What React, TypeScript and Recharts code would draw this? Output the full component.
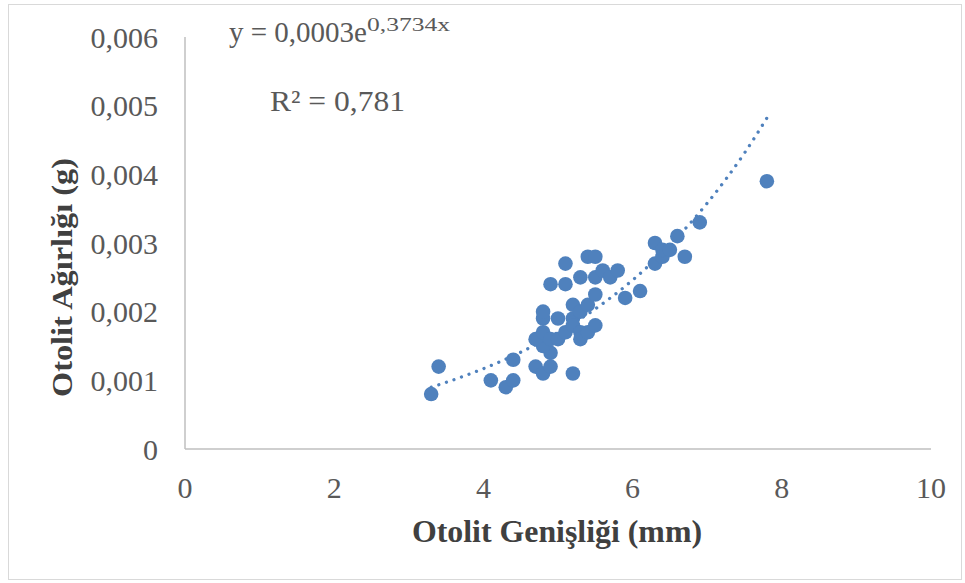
import { ScatterChart, Scatter, XAxis, YAxis } from 'recharts';

// otolith width (mm) vs otolith weight (g)
const widths = [
  3.3, 3.4, 4.1, 4.3, 4.4, 4.4,
  4.7, 4.8, 4.9, 5.2,
  4.9, 4.8, 4.7, 4.8, 4.9, 5.0, 5.1,
  4.8, 4.8, 5.0, 5.2, 5.2, 5.3, 5.3, 5.4, 5.5,
  5.2, 5.3, 5.4, 5.5,
  4.9, 5.1, 5.3, 5.5, 5.1, 5.4, 5.5,
  5.6, 5.7, 5.8, 5.9, 6.1,
  6.3, 6.3, 6.4, 6.4, 6.5, 6.6, 6.7, 6.9, 7.8,
];
const weights = [
  0.0008, 0.0012, 0.001, 0.0009, 0.001, 0.0013,
  0.0012, 0.0011, 0.0012, 0.0011,
  0.0014, 0.0015, 0.0016, 0.0017, 0.0016, 0.0016, 0.0017,
  0.0019, 0.002, 0.0019, 0.0019, 0.0018, 0.0017, 0.0016, 0.0017, 0.0018,
  0.0021, 0.002, 0.0021, 0.00225,
  0.0024, 0.0024, 0.0025, 0.0025, 0.0027, 0.0028, 0.0028,
  0.0026, 0.0025, 0.0026, 0.0022, 0.0023,
  0.0027, 0.003, 0.0028, 0.0029, 0.0029, 0.0031, 0.0028, 0.0033, 0.0039,
];

// exponential trendline as drawn in the picture
const trendX = [3.3, 3.5, 4.0, 4.5, 5.0, 5.5, 6.0, 6.5, 7.0, 7.5, 7.8];
const trendY = [0.0009, 0.00097, 0.00117, 0.00141, 0.0017, 0.00204, 0.00246, 0.00297, 0.00358, 0.00431, 0.00482];

const xTicks = [0, 2, 4, 6, 8, 10];
const yTicks = [0, 0.001, 0.002, 0.003, 0.004, 0.005, 0.006];

const points = widths.map((x, i) => ({ x, y: weights[i] }));
const trend = trendX.map((x, i) => ({ x, y: trendY[i] }));

const FONT = '"Liberation Serif", "Times New Roman", serif';
const BLUE = '#4F81BD';

const fmtY = (v: number) => (v === 0 ? '0' : v.toFixed(3).replace('.', ','));

export default function App() {
  return (
    <div style={{ position: 'absolute', left: 0, top: 0, width: 965, height: 583, background: '#fff' }}>
      <div
        style={{
          position: 'absolute',
          left: 8,
          top: 4,
          width: 952,
          height: 574,
          border: '1px solid #d9d9d9',
        }}
      />
      <div style={{ position: 'absolute', left: 0, top: 0 }}>
        <ScatterChart width={965} height={583} margin={{ top: 37, right: 34, bottom: 74, left: 0 }}>
          <XAxis
            type="number"
            dataKey="x"
            domain={[0, 10]}
            ticks={xTicks}
            height={60}
            tickLine={false}
            tickSize={0}
            tickMargin={28}
            axisLine={{ stroke: '#bfbfbf', strokeWidth: 1.5 }}
            tick={{ fill: '#595959', fontSize: 30, fontFamily: FONT }}
          />
          <YAxis
            type="number"
            dataKey="y"
            domain={[0, 0.006]}
            ticks={yTicks}
            width={185}
            tickLine={false}
            tickSize={0}
            tickMargin={27}
            tickFormatter={fmtY}
            axisLine={{ stroke: '#bfbfbf', strokeWidth: 1.5 }}
            tick={{ fill: '#595959', fontSize: 30, fontFamily: FONT }}
          />
          <Scatter
            data={trend}
            isAnimationActive={false}
            line={{ stroke: BLUE, strokeWidth: 3.3, strokeDasharray: '0.01 8', strokeLinecap: 'round' }}
            lineJointType="monotoneX"
            shape={() => <g />}
          />
          <Scatter data={points} fill={BLUE} isAnimationActive={false} shape={(p: any) => <circle cx={p.cx} cy={p.cy} r={7.3} fill={BLUE} />} />
        </ScatterChart>
      </div>
      <svg width={965} height={583} style={{ position: 'absolute', left: 0, top: 0, pointerEvents: 'none' }}>
        <text x={229} y={42} fontFamily={FONT} fontSize={29} fill="#595959">
          y = 0,0003e
        </text>
        <text x={367} y={31} fontFamily={FONT} fontSize={18} fill="#595959" textLength={83} lengthAdjust="spacingAndGlyphs">
          0,3734x
        </text>
        <text x={270} y={111} fontFamily={FONT} fontSize={30} fill="#595959" textLength={135} lengthAdjust="spacingAndGlyphs">
          R² = 0,781
        </text>
        <text
          x={412}
          y={542}
          fontFamily={FONT}
          fontSize={31}
          fontWeight="bold"
          fill="#404040"
          textLength={290}
          lengthAdjust="spacingAndGlyphs"
        >
          Otolit Genişliği (mm)
        </text>
        <text
          x={0}
          y={0}
          transform="translate(72,397) rotate(-90)"
          fontFamily={FONT}
          fontSize={30}
          fontWeight="bold"
          fill="#404040"
          textLength={239}
          lengthAdjust="spacingAndGlyphs"
        >
          Otolit Ağırlığı (g)
        </text>
      </svg>
    </div>
  );
}
